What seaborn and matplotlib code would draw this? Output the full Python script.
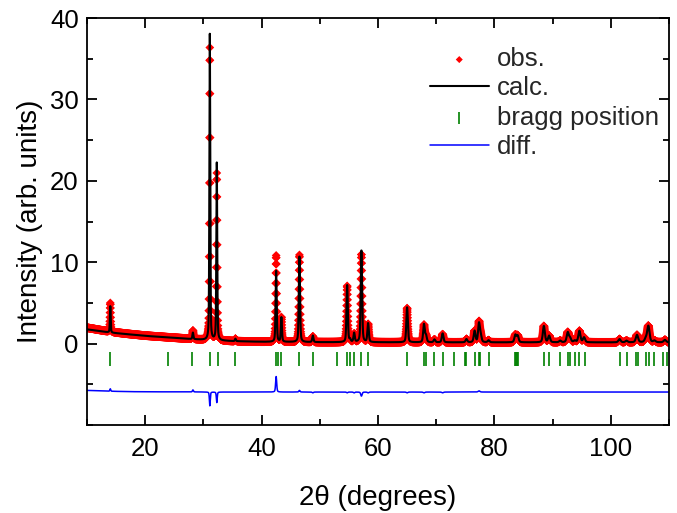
import numpy as np
import pandas as pd
import matplotlib
matplotlib.use("Agg")
import matplotlib.pyplot as plt
import seaborn as sns
from matplotlib.ticker import MultipleLocator

# ---- data ----
# peak positions (2theta), calculated net heights, observed net heights, FWHM
peak_pos = [14.0, 28.2, 31.1, 32.3, 35.5, 42.5, 43.4, 46.5, 48.8, 54.7, 55.2, 55.9,
            57.15, 58.3, 65.0, 67.9, 68.25, 69.7, 71.1, 75.2, 76.6, 77.35, 77.65, 79.0,
            83.6, 84.0, 88.5, 89.4, 91.3, 92.6, 93.0, 93.8, 94.6, 95.4, 101.5, 102.7,
            104.5, 106.0, 106.45, 107.5, 109.3]
calc_h = [3.25, 0.8, 37.6, 21.8, 0.3, 8.7, 3.0, 10.5, 0.8, 7.0, 0.3, 1.1,
          11.3, 2.3, 4.3, 2.2, 0.8, 0.35, 1.1, 0.4, 1.4, 2.3, 0.8, 0.25,
          0.9, 0.8, 2.0, 0.8, 0.2, 1.2, 0.5, 0.2, 1.4, 0.6, 0.4, 0.2,
          0.9, 0.4, 2.0, 0.2, 0.3]
obs_h = [3.55, 1.05, 35.9, 20.5, 0.3, 10.6, 3.0, 10.7, 0.7, 6.9, 0.3, 1.0,
         10.8, 2.2, 4.2, 2.1, 0.8, 0.35, 1.0, 0.4, 1.4, 2.45, 0.8, 0.25,
         0.9, 0.8, 2.0, 0.8, 0.2, 1.2, 0.5, 0.2, 1.4, 0.6, 0.4, 0.2,
         0.9, 0.4, 2.0, 0.2, 0.3]
peak_fwhm = [0.16, 0.2, 0.17, 0.18, 0.2, 0.22, 0.22, 0.24, 0.25, 0.26, 0.26, 0.26,
             0.27, 0.28, 0.3, 0.32, 0.32, 0.33, 0.33, 0.35, 0.35, 0.35, 0.35, 0.36,
             0.38, 0.38, 0.4, 0.4, 0.4, 0.42, 0.42, 0.42, 0.42, 0.42, 0.45, 0.45,
             0.46, 0.47, 0.47, 0.48, 0.5]
# background anchors
bg_x = [10, 12, 14, 17, 20, 25, 30, 35, 40, 50, 70, 110]
bg_calc = [1.75, 1.55, 1.35, 1.15, 0.95, 0.7, 0.45, 0.3, 0.22, 0.17, 0.15, 0.15]
bg_obs = [1.95, 1.7, 1.45, 1.2, 0.98, 0.72, 0.46, 0.3, 0.22, 0.17, 0.15, 0.15]
diff_offset = -5.95

bragg_pos = [13.95, 23.9, 28.1, 31.2, 32.5, 35.5, 42.5, 42.9, 43.4, 46.5, 48.8, 52.9,
             54.7, 55.2, 55.9, 57.0, 58.2, 64.9, 67.9, 68.2, 69.7, 71.1, 73.1, 74.9,
             75.2, 76.6, 77.4, 77.6, 79.0, 83.5, 83.7, 83.9, 84.1, 88.5, 89.4, 91.3,
             92.6, 93.0, 93.8, 94.6, 95.5, 101.5, 102.7, 104.3, 104.7, 106.0, 106.6,
             107.5, 109.0, 109.6]
bragg_y = -1.9

# ---- build profiles ----
tt = np.arange(10.0, 110.0001, 0.02)


def profile(heights, bg):
    y = np.interp(tt, bg_x, bg)
    for p, h, w in zip(peak_pos, heights, peak_fwhm):
        g = np.exp(-4 * np.log(2) * ((tt - p) / w) ** 2)
        l = 1.0 / (1.0 + 4 * ((tt - p) / w) ** 2)
        y = y + h * (0.6 * g + 0.4 * l)
    return y


y_calc = profile(calc_h, bg_calc)
y_obs = profile(obs_h, bg_obs)
y_diff = y_obs - y_calc + diff_offset

df = pd.DataFrame({"tt": tt, "obs": y_obs, "calc": y_calc, "diff": y_diff})
df_bragg = pd.DataFrame({"pos": bragg_pos, "y": [bragg_y] * len(bragg_pos)})

# ---- plot ----
sns.set_theme(style="ticks")
plt.rcParams["font.family"] = ["Liberation Sans", "DejaVu Sans"]

fig = plt.figure(figsize=(6.77, 5.13), dpi=100)
ax = fig.add_axes([87 / 677, 1 - 425 / 513, 582 / 677, 407 / 513])

sns.scatterplot(data=df, x="tt", y="obs", marker="D", s=20, color="#ff0000",
                edgecolor="none", linewidth=0, ax=ax, label="obs.", zorder=2)
sns.lineplot(data=df, x="tt", y="calc", color="black", lw=1.5, ax=ax,
             label="calc.", estimator=None, sort=False, zorder=3)
sns.scatterplot(data=df_bragg, x="pos", y="y", marker="|", s=110, color="#008000",
                linewidth=1.2, ax=ax, label="bragg position", zorder=2)
sns.lineplot(data=df, x="tt", y="diff", color="#0000ff", lw=1.1, ax=ax,
             label="diff.", estimator=None, sort=False, zorder=2)

ax.set_xlim(10, 110)
ax.set_ylim(-10, 40)
ax.xaxis.set_major_locator(MultipleLocator(20))
ax.xaxis.set_minor_locator(MultipleLocator(10))
ax.set_yticks([0, 10, 20, 30, 40])
ax.yaxis.set_minor_locator(MultipleLocator(5))
ax.tick_params(which="both", direction="in", top=True, right=True, width=1.3,
               labelsize=18.5, color="black", labelcolor="black")
ax.tick_params(which="major", length=7)
ax.tick_params(which="minor", length=4)
ax.tick_params(axis="x", which="major", pad=9)
ax.tick_params(axis="y", which="major", pad=6)
for sp in ax.spines.values():
    sp.set_linewidth(1.3)
    sp.set_color("black")

ax.set_xlabel("2θ (degrees)", fontsize=20, color="black", labelpad=17)
ax.set_ylabel("Intensity (arb. units)", fontsize=20, color="black", labelpad=5)

handles, labels = ax.get_legend_handles_labels()
leg = ax.legend(handles, labels, loc="upper right", bbox_to_anchor=(0.982, 0.928),
                frameon=False, fontsize=18.5, handlelength=2.3, handletextpad=0.3,
                labelspacing=0.2, borderpad=0, borderaxespad=0, markerscale=0.8)

fig.savefig("out.png", dpi=100)
